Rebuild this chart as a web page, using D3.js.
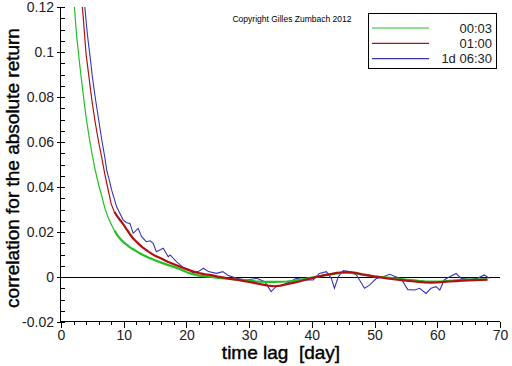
<!DOCTYPE html>
<html><head><meta charset="utf-8">
<script src="https://cdn.jsdelivr.net/npm/d3@7"></script>
<style>body{margin:0;background:#fff}svg{display:block}</style>
</head><body>
<script>
// ---- data ----
const lag = [2,2.5,3,3.5,4,4.5,5,5.5,6,6.5,7,7.5,8,8.5,9,9.5,10,10.5,11,11.5,12,12.5,13,14,15,16,17,18,19,20,21,22,23,24,25,26,27,28,29,30,31,32,33,34,35,36,37,38,39,40,41,42,43,44,45,46,47,48,49,50,51,52,53,54,55,56,57,58,59,60,61,62,63,64,65,66,67,68];
const green = [0.125,0.107,0.094,0.082,0.071,0.062,0.054,0.047,0.041,0.036,0.0305,0.0265,0.0235,0.0208,0.0185,0.0168,0.0154,0.0143,0.0132,0.0123,0.0115,0.0107,0.0099,0.0086,0.0074,0.0064,0.0054,0.0045,0.0034,0.0022,0.0012,0.0006,0.0003,0.0000,-0.0004,-0.0006,-0.0009,-0.0012,-0.0014,-0.0016,-0.0019,-0.0021,-0.0022,-0.0022,-0.0021,-0.0020,-0.0017,-0.0013,-0.0008,-0.0003,0.0002,0.0007,0.0012,0.0016,0.0019,0.0019,0.0016,0.0011,0.0007,0.0003,0.0000,-0.0003,-0.0006,-0.0009,-0.0012,-0.0014,-0.0017,-0.0019,-0.0020,-0.0020,-0.0019,-0.0017,-0.0015,-0.0013,-0.0012,-0.0011,-0.0010,-0.0010];
const red = [0.170,0.150,0.132,0.117,0.099,0.088,0.077,0.068,0.060,0.053,0.0455,0.039,0.0325,0.029,0.0268,0.025,0.0232,0.021,0.019,0.0171,0.0158,0.0144,0.0132,0.0112,0.0094,0.0082,0.0068,0.0057,0.0046,0.0035,0.0025,0.0017,0.0012,0.0008,0.0002,-0.0003,-0.0008,-0.0012,-0.0017,-0.0022,-0.0027,-0.0033,-0.0038,-0.0041,-0.0038,-0.0032,-0.0026,-0.0020,-0.0012,-0.0005,0.0002,0.0008,0.0013,0.0018,0.0021,0.0022,0.0018,0.0012,0.0007,0.0002,-0.0002,-0.0006,-0.0010,-0.0013,-0.0016,-0.0019,-0.0022,-0.0024,-0.0025,-0.0024,-0.0022,-0.0020,-0.0018,-0.0016,-0.0015,-0.0014,-0.0013,-0.0012];
const blueLag = [3,3.5,3.8,4.2,4.7,5,5.5,6,6.5,7,7.28,7.7,8.07,8.87,9.92,10.46,10.99,11.5,12.3,12.85,13.6,14.2,14.7,15.2,16.3,17.1,17.4,18.4,19.5,20.5,21.1,21.9,22.7,23.5,24.8,25.8,26.6,28,29.6,31.2,32.5,33.5,34.3,35.4,36.5,37.5,38.9,40.2,41.2,42.3,43.1,43.6,44.2,45,46,47.1,47.6,48.4,49.2,50.3,51.3,52.4,53.5,54.2,55.3,56.4,57.2,58.2,59,59.8,60.4,61.1,61.9,63,63.8,65.1,66.4,67.5,68.3];
const blue = [0.150,0.131,0.120,0.108,0.0964,0.089,0.079,0.070,0.061,0.053,0.0476,0.0431,0.0387,0.0312,0.0253,0.0241,0.0238,0.0194,0.0216,0.0179,0.0157,0.0161,0.0150,0.0112,0.0128,0.0090,0.0098,0.0068,0.0042,0.0031,0.0016,0.0024,0.0039,0.0024,0.0016,0.0024,0.0008,-0.0006,-0.0013,-0.0006,-0.0021,-0.0065,-0.0043,-0.0036,-0.0021,-0.0006,-0.0013,-0.0013,0.0016,0.0024,-0.0006,-0.0050,0.0000,0.0028,0.0024,0.0009,-0.0013,-0.0050,-0.0036,-0.0006,0.0000,0.0012,0.0000,-0.0006,-0.0056,-0.0058,-0.0050,-0.0073,-0.0050,-0.0043,-0.0058,-0.0013,0.0000,0.0016,-0.0006,-0.0010,-0.0006,0.0009,-0.0006];
const seriesNames = ["00:03","01:00","1d 06:30"];
const seriesColors = ["#22c022","#b01010","#3535b5"];
const xTicks = [0,10,20,30,40,50,60,70];
const yTicks = [-0.02,0,0.02,0.04,0.06,0.08,0.1,0.12];
const yTickLabels = ["-0.02","0","0.02","0.04","0.06","0.08","0.1","0.12"];

// ---- chart ----
const W = 512, H = 366;
const svg = d3.select("body").append("svg").attr("width", W).attr("height", H);
const x = d3.scaleLinear().domain([0,70]).range([61,500]);
const y = d3.scaleLinear().domain([-0.02,0.12]).range([322,7]);
const font = "'Liberation Sans', Arial, sans-serif";

svg.append("defs").append("clipPath").attr("id","plot")
  .append("rect").attr("x",61).attr("y",7).attr("width",439).attr("height",315);

// zero line
svg.append("line").attr("x1",x(0)).attr("x2",x(70)).attr("y1",y(0)+0.5).attr("y2",y(0)+0.5)
  .attr("stroke","#000").attr("stroke-width",1).attr("shape-rendering","crispEdges");

const line = d3.line().x(d=>x(d[0])).y(d=>y(d[1]));
const g = svg.append("g").attr("clip-path","url(#plot)");
const bluePts = blueLag.map((l,i)=>[l,blue[i]]);
const greenPts = lag.map((l,i)=>[l,green[i]]);
const redPts = lag.map((l,i)=>[l,red[i]]);
g.append("path").attr("d",line(bluePts)).attr("fill","none").attr("stroke",seriesColors[2]).attr("stroke-width",1.1);
[[greenPts,seriesColors[0]],[redPts,seriesColors[1]]].forEach(([pts,c])=>{
  g.append("path").attr("d",line(pts.filter(p=>p[0]<=8.5))).attr("fill","none").attr("stroke",c).attr("stroke-width",1.2);
  g.append("path").attr("d",line(pts.filter(p=>p[0]>=8.5))).attr("fill","none").attr("stroke",c).attr("stroke-width",2.2);
});

// axes
const xAxis = d3.axisBottom(x).tickValues(d3.range(0,71,2)).tickSize(3).tickFormat("");
const gx = svg.append("g").attr("transform","translate(0,321.5)").call(xAxis);
gx.select(".domain").attr("d","M61,0H500");
gx.selectAll(".tick line").filter(d=>d%10===0).attr("y2",6);
const gxl = svg.append("g").attr("transform","translate(0,322)").call(d3.axisBottom(x).tickValues(xTicks).tickSize(0).tickPadding(8));
gxl.select(".domain").remove();
gxl.selectAll("text").attr("font-family",font).attr("font-size",14).attr("fill","#222");

const yAxis = d3.axisRight(y).tickValues(d3.range(-20,121,5).map(v=>v/1000)).tickSize(4).tickFormat("");
const gy = svg.append("g").attr("transform","translate(60.5,0)").call(yAxis);
gy.select(".domain").attr("d","M0,7V322");
gy.selectAll(".tick line").filter(d=>Math.abs(Math.round(d*1000)%20)===0).attr("x1",-4);
const gyl = svg.append("g").attr("transform","translate(61,0)").call(d3.axisLeft(y).tickValues(yTicks).tickSize(0).tickPadding(7).tickFormat((d,i)=>yTickLabels[i]));
gyl.select(".domain").remove();
gyl.selectAll("text").attr("font-family",font).attr("font-size",14).attr("fill","#222");
svg.selectAll(".domain, .tick line").attr("stroke","#000").attr("shape-rendering","crispEdges");

// titles
svg.append("text").attr("x",281).attr("y",359).attr("text-anchor","middle").style("white-space","pre")
  .attr("font-family",font).attr("font-size",19).attr("fill","#000").attr("stroke","#000").attr("stroke-width",0.4)
  .text("time lag  [day]");
svg.append("text").attr("transform","translate(19,168) rotate(-90)").attr("text-anchor","middle")
  .attr("font-family",font).attr("font-size",19).attr("fill","#000").attr("stroke","#000").attr("stroke-width",0.4)
  .text("correlation for the absolute return");
svg.append("text").attr("x",292).attr("y",22).attr("text-anchor","middle")
  .attr("font-family",font).attr("font-size",8.5).attr("fill","#000")
  .text("Copyright Gilles Zumbach 2012");

// legend
const lg = svg.append("g");
lg.append("rect").attr("x",368.5).attr("y",13.5).attr("width",128).attr("height",55).attr("fill","#fff").attr("stroke","#000");
seriesNames.forEach((n,i)=>{
  const yy = 28 + i*15.3;
  lg.append("line").attr("x1",372).attr("x2",429).attr("y1",yy).attr("y2",yy).attr("stroke",seriesColors[i]).attr("stroke-width",1.2);
  lg.append("text").attr("x",492).attr("y",yy+4.5).attr("text-anchor","end").attr("font-family",font).attr("font-size",13).attr("fill","#222").text(n);
});
</script>
</body></html>
